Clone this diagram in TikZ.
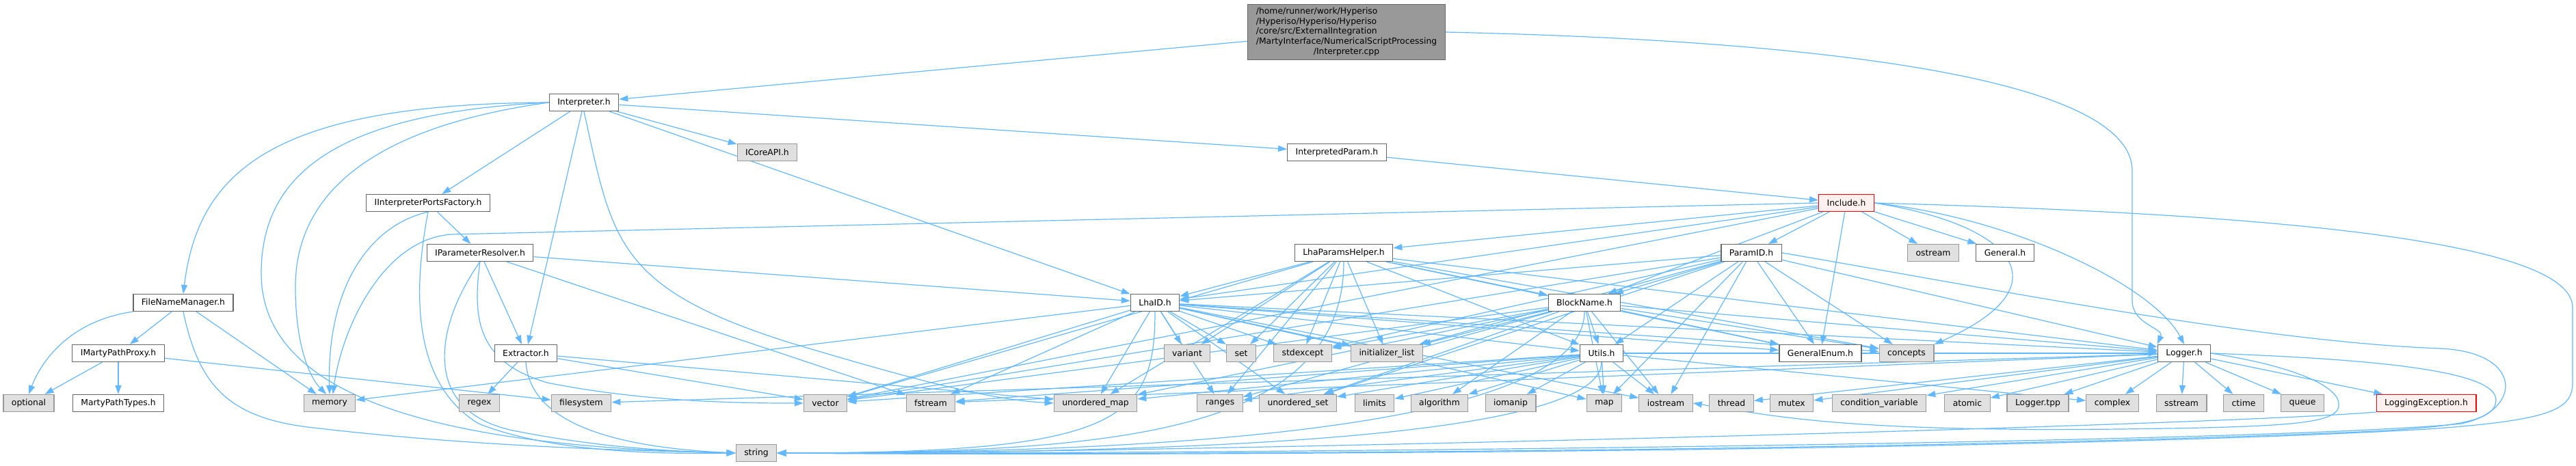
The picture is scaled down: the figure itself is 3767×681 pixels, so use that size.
\documentclass[tikz,border=0pt]{standalone}
\usepackage{fontspec}
\setmainfont{DejaVu Sans}
\usepackage{tikz}
\usetikzlibrary{arrows.meta}
\usetikzlibrary{backgrounds}

\definecolor{linkblue}{HTML}{63B8FF}
\definecolor{boxline}{HTML}{666666}
\definecolor{sysline}{HTML}{999999}
\definecolor{sysfill}{HTML}{E0E0E0}
\definecolor{rootfill}{HTML}{999999}
\definecolor{redfill}{HTML}{FFF0F0}

\begin{document}
\begin{tikzpicture}[x=0.5mm, y=-0.5mm,
	sysfile/.style={fill=sysfill, draw=sysline},
	mainfile/.style={fill=rootfill, draw=boxline, inner ysep=2mm},
	badfile/.style={fill=redfill, draw=red},
	link/.style={draw=linkblue, line width=0.6mm, ->}]
	\useasboundingbox (0,0) rectangle (3767,681);

	\begin{scope}[every node/.style={rectangle, draw=boxline, fill=white, line width=0.6mm,
	              minimum height=12.5mm, inner xsep=6mm, inner ysep=0pt,
	              font=\fontsize{17.6}{20.8}\selectfont}]
		\node[mainfile] (root) at (1969,47) {\begin{tabular}{@{}l@{}}/home/runner/work/Hyperiso\\/Hyperiso/Hyperiso/Hyperiso\\/core/src/ExternalIntegration\\/MartyInterface/NumericalScriptProcessing\\\multicolumn{1}{@{}c@{}}{/Interpreter.cpp}\end{tabular}};
		\node (interp) at (854,150) {Interpreter.h};
		\node[sysfile] (icore) at (1122,223) {ICoreAPI.h};
		\node (iparam) at (1955,223) {InterpretedParam.h};
		\node (iportsf) at (626,297) {IInterpreterPortsFactory.h};
		\node[badfile] (include) at (2700,297) {Include.h};
		\node (iresolv) at (702,370) {IParameterResolver.h};
		\node (lhaph) at (1965,370) {LhaParamsHelper.h};
		\node (paramid) at (2561,370) {ParamID.h};
		\node[sysfile] (ostream) at (2827,370) {ostream};
		\node (general) at (2932,370) {General.h};
		\node (fnm) at (268,443) {FileNameManager.h};
		\node (lhaid) at (1689,443) {LhaID.h};
		\node (blockname) at (2317,443) {BlockName.h};
		\node (imarty) at (173,517) {IMartyPathProxy.h};
		\node (extractor) at (769,517) {Extractor.h};
		\node[sysfile] (variant) at (1736,517) {variant};
		\node[sysfile] (set) at (1815,517) {set};
		\node[sysfile] (stdexcept) at (1905,517) {stdexcept};
		\node[sysfile] (initlist) at (2028,517) {initializer\_list};
		\node (utils) at (2342,517) {Utils.h};
		\node (genenum) at (2662,517) {GeneralEnum.h};
		\node[sysfile] (concepts) at (2788,517) {concepts};
		\node (logger) at (3194,517) {Logger.h};
		\node[sysfile] (optional) at (42,590) {optional};
		\node (martytypes) at (173,590) {MartyPathTypes.h};
		\node[sysfile] (memory) at (482,590) {memory};
		\node[sysfile] (regex) at (701,590) {regex};
		\node[sysfile] (filesystem) at (850,590) {filesystem};
		\node[sysfile] (vector) at (1207,590) {vector};
		\node[sysfile] (fstream) at (1361,590) {fstream};
		\node[sysfile] (umap) at (1602,590) {unordered\_map};
		\node[sysfile] (ranges) at (1784,590) {ranges};
		\node[sysfile] (uset) at (1898,590) {unordered\_set};
		\node[sysfile] (limits) at (2010,590) {limits};
		\node[sysfile] (algorithm) at (2105,590) {algorithm};
		\node[sysfile] (iomanip) at (2209,590) {iomanip};
		\node[sysfile] (map) at (2346,590) {map};
		\node[sysfile] (iostream) at (2436,590) {iostream};
		\node[sysfile] (thread) at (2532,590) {thread};
		\node[sysfile] (mutex) at (2620,590) {mutex};
		\node[sysfile] (condvar) at (2748,590) {condition\_variable};
		\node[sysfile] (atomic) at (2877,590) {atomic};
		\node[sysfile] (loggertpp) at (2980,590) {Logger.tpp};
		\node[sysfile] (complex) at (3089,590) {complex};
		\node[sysfile] (sstream) at (3190,590) {sstream};
		\node[sysfile] (ctime) at (3281,590) {ctime};
		\node[sysfile] (queue) at (3367,590) {queue};
		\node[badfile] (logexc) at (3548,590) {LoggingException.h};
		\node[sysfile] (string) at (1106,663) {string};
	\end{scope}

	\begin{scope}[on background layer, >={Triangle[length=6.5mm, width=4.5mm]},
	              every edge/.style={link}]
		% the source file
		\path (root) edge (interp);
		\draw[link] (root.east) .. controls (2700,60) and (3118,120) .. (3118,250) -- (3118,440)
			.. controls (3118,475) and (3165,480) .. (logger.north west);

		% Interpreter.h
		\foreach \t in {iportsf, icore, iparam, lhaid, extractor} {\path (interp) edge (\t);}
		\draw[link] (interp.west) .. controls (400,152) and (290,250) .. (fnm.north);
		\draw[link] (interp.west) .. controls (500,165) and (382,250) .. (382,400)
			.. controls (382,600) and (700,655) .. (string.west);
		\draw[link] (interp.west) .. controls (550,185) and (432,280) .. (432,420)
			.. controls (432,520) and (460,560) .. (memory.110);
		\draw[link] (interp.south) .. controls (895,350) and (900,420) .. (1150,500)
			.. controls (1350,560) and (1450,585) .. (umap.west);
		\path (iparam) edge (include);

		% left part
		\path (iportsf) edge (iresolv);
		\draw[link] (iportsf.south) .. controls (540,330) and (478,420) .. (memory.north);
		\draw[link] (iportsf.south) .. controls (605,420) and (600,560) .. (700,620)
			.. controls (800,660) and (950,665) .. (string.west);
		\draw[link] (fnm.south west) .. controls (100,470) and (60,530) .. (optional.north);
		\path (fnm) edge (imarty);
		\path (fnm) edge (memory);
		\draw[link] (fnm.south) .. controls (290,560) and (330,610) .. (450,625)
			.. controls (700,655) and (950,660) .. (string.west);
		\foreach \t in {optional, martytypes, filesystem} {\path (imarty) edge (\t);}
		\foreach \t in {extractor, lhaid, fstream} {\path (iresolv) edge (\t);}
		\draw[link] (iresolv.south) .. controls (640,470) and (610,600) .. (750,630)
			.. controls (850,650) and (950,660) .. (string.west);
		\draw[link] (iresolv.south) .. controls (690,470) and (700,530) .. (800,560)
			.. controls (950,590) and (1100,590) .. (vector.west);
		\foreach \t in {regex, vector, umap} {\path (extractor) edge (\t);}
		\draw[link] (extractor.south) .. controls (775,620) and (900,655) .. (string.west);

		% Include.h
		\foreach \t in {lhaph, paramid, blockname, lhaid, genenum, ostream, general, vector} {\path (include) edge (\t);}
		\draw[link] (include.west) -- (660,343) .. controls (560,350) and (500,480) .. (memory.70);
		\draw[link] (include.east) .. controls (2950,330) and (3020,420) .. (concepts.north east);
		\draw[link] (include.east) .. controls (2950,320) and (3150,420) .. (logger.north);
		\draw[link] (include.east) .. controls (3200,310) and (3762,340) .. (3762,450) -- (3762,560)
			.. controls (3762,600) and (3730,615) .. (3550,628)
			.. controls (3000,660) and (1700,668) .. (string.east);

		% headers of the core
		\foreach \t in {lhaid, blockname, utils, stdexcept, initlist, variant, set, genenum, concepts, logger, vector, umap, ranges} {\path (lhaph) edge (\t);}
		\foreach \t in {lhaid, blockname, utils, genenum, concepts, logger, stdexcept, initlist, vector, map, iostream, uset} {\path (paramid) edge (\t);}
		\foreach \t in {utils, genenum, concepts, stdexcept, initlist, logger, vector, map, iostream, algorithm, umap, uset, ranges} {\path (blockname) edge (\t);}
		\foreach \t in {variant, set, stdexcept, genenum, concepts, logger, utils, initlist, vector, fstream, umap, ranges, uset, map, iostream, memory} {\path (lhaid) edge (\t);}
		\foreach \t in {map, iostream, iomanip, algorithm, limits, uset, umap, vector, ranges, logger, fstream, complex} {\path (utils) edge (\t);}
		\foreach \t in {thread, mutex, condvar, atomic, loggertpp, complex, sstream, ctime, queue, logexc, fstream, filesystem} {\path (logger) edge (\t);}
		\foreach \s/\d in {lhaid/160, lhaph/250, blockname/180, utils/120} {\draw[link] (\s.south) .. controls +(0,\d) and +(500,0) .. (string.east);}
		\draw[link] (paramid.east) .. controls (2900,420) and (3300,500) .. (3568,510)
			.. controls (3690,515) and (3690,600) .. (3600,620)
			.. controls (3300,650) and (1700,665) .. (string.east);
		\draw[link] (logger.east) .. controls (3450,525) and (3650,540) .. (3650,585)
			.. controls (3650,615) and (3600,625) .. (3450,632)
			.. controls (2800,660) and (1700,666) .. (string.east);
		\draw[link] (logger.east) .. controls (3350,535) and (3425,565) .. (3420,595)
			.. controls (3415,620) and (3350,625) .. (3100,628)
			.. controls (2700,632) and (2600,610) .. (iostream.east);
		\draw[link] (logexc.south west) .. controls (3200,625) and (1600,665) .. (string.east);
	\end{scope}
\end{tikzpicture}
\end{document}
